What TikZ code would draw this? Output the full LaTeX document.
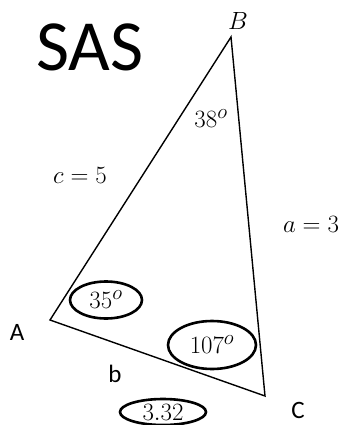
\documentclass[tikz,border=0pt]{standalone}
\usepackage{fontspec}
\setmainfont{Carlito}
\begin{document}
\begin{tikzpicture}[x=1pt,y=-1pt,
  side/.style={draw=black,line width=1.4pt,line join=miter},
  oval/.style={draw=black,line width=2.6pt},
  mathlbl/.style={font=\fontsize{28}{32}\selectfont,inner sep=0pt},
  sanslbl/.style={font=\fontsize{25}{30}\selectfont,inner sep=0pt}]
\useasboundingbox (0,0) rectangle (349,425);
\clip (0,0) rectangle (349,425);
\coordinate (B) at (231,37);
\coordinate (A) at (50,320);
\coordinate (C) at (265,396);
\draw[side] (A) -- (B) -- (C) -- cycle;
\node[font=\fontsize{72}{80}\selectfont,inner sep=0pt] (sas) at (90,47) {SAS};
\node[mathlbl] (lB) at (238,21) {$B$};
\node[mathlbl] (l38) at (211,119) {$38^o$};
\node[mathlbl] (lc) at (80,175) {$c=5$};
\node[mathlbl] (la) at (311,224) {$a=3$};
\node[sanslbl] (lA) at (17,332) {A};
\node[sanslbl] (lb) at (115,374) {b};
\node[sanslbl] (lC) at (298,410) {C};
\node[mathlbl] (l35) at (106,300) {$35^o$};
\draw[oval] (l35) ellipse [x radius=36,y radius=18.5];
\node[mathlbl] (l107) at (212,345) {$107^o$};
\draw[oval] (l107) ellipse [x radius=44,y radius=24];
\node[mathlbl] (l332) at (163,412) {$3.32$};
\draw[oval] (l332) ellipse [x radius=43,y radius=13];
\end{tikzpicture}
\end{document}
